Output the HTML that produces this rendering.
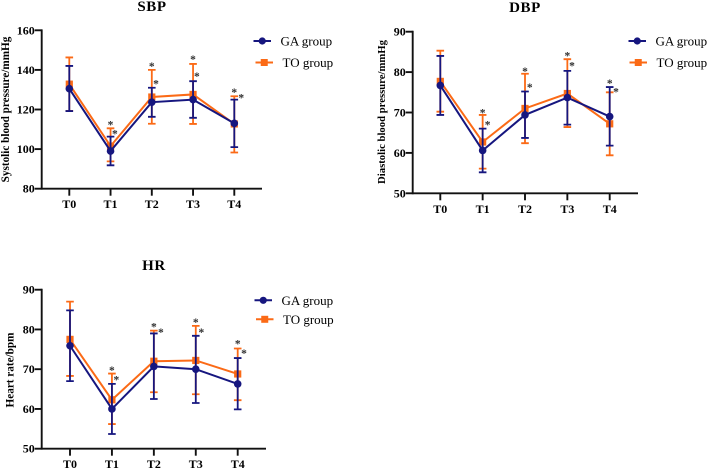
<!DOCTYPE html>
<html>
<head>
<meta charset="utf-8">
<style>
html,body{margin:0;padding:0;background:#fff;width:709px;height:469px;overflow:hidden}
svg{display:block;font-family:"Liberation Serif",serif}
.title{font-weight:700;font-size:15px;letter-spacing:.6px;text-anchor:middle}
.tick{font-weight:700;font-size:12px}
.ytitle{font-weight:700;font-size:11.2px;text-anchor:middle}
.legend{font-size:13px}
.star{font-weight:700;font-size:11.5px;text-anchor:middle;fill:#333}
</style>
</head>
<body>
<svg id="root" width="709" height="469" viewBox="0 0 709 469" xmlns="http://www.w3.org/2000/svg">
  <g style="filter:blur(.35px)" id="plots"></g>
  <text class="title" x="152" y="11">SBP</text>
  <text class="title" x="525" y="12">DBP</text>
  <text class="title" x="154" y="270">HR</text>
  <text class="ytitle" transform="translate(9,109.5) rotate(-90)">Systolic blood pressure/mmHg</text>
  <text class="ytitle" style="font-size:10.7px" transform="translate(385,112) rotate(-90)">Diastolic blood pressure/mmHg</text>
  <text class="ytitle" transform="translate(13.5,370) rotate(-90)">Heart rate/bpm</text>
</svg>
<script>
var NAVY = '#16167f';
var ORANGE = '#fb6a16';
var categories = ['T0', 'T1', 'T2', 'T3', 'T4'];

var sbpTicks = [80, 100, 120, 140, 160];
var sbpGaMean = [130.5, 99, 123.7, 125, 113];
var sbpGaHigh = [142, 106.3, 131, 134.3, 125];
var sbpGaLow = [119.2, 91.8, 116.3, 115.8, 101];
var sbpToMean = [132.8, 101.5, 126.3, 127.6, 112.7];
var sbpToHigh = [146.3, 110.5, 140, 143, 126.7];
var sbpToLow = [119.3, 93.8, 112.8, 112.7, 98.3];
var sbpStarA = [null, 112.5, 142, 145.5, 129];
var sbpStarB = [null, 108, 133.2, 137, 126.2];

var dbpTicks = [50, 60, 70, 80, 90];
var dbpGaMean = [76.7, 60.6, 69.4, 73.7, 69];
var dbpGaHigh = [84, 66, 75.2, 80.3, 76.3];
var dbpGaLow = [69.4, 55.2, 63.7, 67, 61.8];
var dbpToMean = [77.7, 62.7, 71, 74.7, 67.2];
var dbpToHigh = [85.3, 69.4, 79.6, 83.2, 75];
var dbpToLow = [70.2, 56.1, 62.4, 66.4, 59.4];
var dbpStarA = [null, 70, 80.3, 84.2, 77.3];
var dbpStarB = [null, 67.1, 76.3, 81.7, 75.3];

var hrTicks = [50, 60, 70, 80, 90];
var hrGaMean = [75.9, 60, 70.7, 70, 66.3];
var hrGaHigh = [84.8, 66.3, 79, 78.4, 72.8];
var hrGaLow = [67, 53.7, 62.5, 61.5, 59.9];
var hrToMean = [77.5, 62.3, 72, 72.2, 68.8];
var hrToHigh = [87, 68.9, 79.7, 80.9, 75.2];
var hrToLow = [68.3, 56.2, 64.2, 63.7, 62.2];
var hrStarA = [null, 69.8, 80.8, 81.9, 76.5];
var hrStarB = [null, 67.5, 79.4, 79.4, 74.1];

var SVGNS = 'http://www.w3.org/2000/svg';
var plots = document.getElementById('plots');

function make(parent, tag, attrs, text) {
  var e = document.createElementNS(SVGNS, tag);
  for (var k in attrs) e.setAttribute(k, attrs[k]);
  if (text !== undefined) e.textContent = text;
  parent.appendChild(e);
  return e;
}

function drawSeries(g, xOf, yOf, mean, high, low, color, shape, label) {
  var pts = mean.map(function (v, i) { return xOf(i) + ',' + yOf(v); }).join(' ');
  var line = make(g, 'polyline', { points: pts, fill: 'none', stroke: color, 'stroke-width': 2 });
  
  
  mean.forEach(function (v, i) {
    var x = xOf(i);
    var bar = make(g, 'path', {
      d: 'M' + (x - 3.8) + ' ' + yOf(high[i]) + 'H' + (x + 3.8) +
         'M' + x + ' ' + yOf(high[i]) + 'V' + yOf(low[i]) +
         'M' + (x - 3.8) + ' ' + yOf(low[i]) + 'H' + (x + 3.8),
      fill: 'none', stroke: color, 'stroke-width': 1.8
    });
    
    
    var mark;
    if (shape === 'circle') {
      mark = make(g, 'circle', { cx: x, cy: yOf(v), r: 3.8, fill: color });
    } else {
      mark = make(g, 'rect', { x: x - 3.6, y: yOf(v) - 3.6, width: 7.2, height: 7.2, fill: color });
    }
    
    
  });
}

function drawLegendEntry(g, x1, x2, y, tx, color, shape, label) {
  var line = make(g, 'line', { x1: x1, x2: x2, y1: y, y2: y, stroke: color, 'stroke-width': 2 });
  
  
  var c = (x1 + x2) / 2;
  var mark;
  if (shape === 'circle') {
    mark = make(g, 'circle', { cx: c, cy: y, r: 3.6, fill: color });
  } else {
    mark = make(g, 'rect', { x: c - 3.5, y: y - 3.5, width: 7, height: 7, fill: color });
  }
  
  
  var t = make(g, 'text', { x: tx, y: y + 4.5, 'class': 'legend' }, label);
  
  
}

function drawChart(c) {
  var g = make(plots, 'g', {});
  
  
  var min = c.ticks[0], max = c.ticks[c.ticks.length - 1];
  function yOf(v) { return c.bottom + (v - min) / (max - min) * (c.top - c.bottom); }
  function xOf(i) { return c.x0 + i * (c.x4 - c.x0) / (categories.length - 1); }

  var yAxis = make(g, 'line', { x1: c.left, x2: c.left, y1: c.top - 0.9, y2: c.bottom + 0.9, stroke: '#111', 'stroke-width': 1.9 });
  
  
  var xAxis = make(g, 'line', { x1: c.left, x2: c.right, y1: c.bottom, y2: c.bottom, stroke: '#111', 'stroke-width': 1.9 });
  
  

  c.ticks.forEach(function (v) {
    var y = yOf(v);
    var tk = make(g, 'line', { x1: c.left - 7, x2: c.left, y1: y, y2: y, stroke: '#111', 'stroke-width': 1.9 });
    
    
    var lb = make(g, 'text', { x: c.left - 7, y: y + 4, 'class': 'tick', 'text-anchor': 'end' }, String(v));
    
    
  });

  categories.forEach(function (name, i) {
    var x = xOf(i);
    var tk = make(g, 'line', { x1: x, x2: x, y1: c.bottom, y2: c.bottom + 7, stroke: '#111', 'stroke-width': 1.9 });
    
    
    var lb = make(g, 'text', { x: x, y: c.bottom + 19.5, 'class': 'tick', 'text-anchor': 'middle' }, name);
    
    
  });

  drawSeries(g, xOf, yOf, c.toMean, c.toHigh, c.toLow, ORANGE, 'square', 'to-group');
  drawSeries(g, xOf, yOf, c.gaMean, c.gaHigh, c.gaLow, NAVY, 'circle', 'ga-group');

  categories.forEach(function (name, i) {
    if (c.starA[i] !== null) {
      var a = make(g, 'text', { x: xOf(i), y: yOf(c.starA[i]) + 4.2, 'class': 'star' }, '*');
      
      
    }
    if (c.starB[i] !== null) {
      var b = make(g, 'text', { x: xOf(i) + c.starShift[i], y: yOf(c.starB[i]) + 4.2, 'class': 'star' }, '*');
      
      
    }
  });

  drawLegendEntry(g, c.leg[0], c.leg[0] + 17.5, c.leg[1], c.leg[0] + 27, NAVY, 'circle', 'GA group');
  drawLegendEntry(g, c.leg[2], c.leg[2] + 17.5, c.leg[3], c.leg[2] + 27, ORANGE, 'square', 'TO group');
}

drawChart({
  name: 'sbp', ticks: sbpTicks, left: 41.7, right: 262, top: 30.3, bottom: 188.7, x0: 69.3, x4: 234.3,
  gaMean: sbpGaMean, gaHigh: sbpGaHigh, gaLow: sbpGaLow,
  toMean: sbpToMean, toHigh: sbpToHigh, toLow: sbpToLow,
  starA: sbpStarA, starB: sbpStarB, starShift: [0, 4.3, 4.2, 3.8, 7], leg: [253.5, 41, 255.5, 62.5]
});
drawChart({
  name: 'dbp', ticks: dbpTicks, left: 412.7, right: 638, top: 31.7, bottom: 193.3, x0: 440.3, x4: 609.7,
  gaMean: dbpGaMean, gaHigh: dbpGaHigh, gaLow: dbpGaLow,
  toMean: dbpToMean, toHigh: dbpToHigh, toLow: dbpToLow,
  starA: dbpStarA, starB: dbpStarB, starShift: [0, 5, 4.7, 4.7, 6.3], leg: [628.5, 41, 629.5, 62.5]
});
drawChart({
  name: 'hr', ticks: hrTicks, left: 41.7, right: 266, top: 289.7, bottom: 448.7, x0: 70, x4: 237.7,
  gaMean: hrGaMean, gaHigh: hrGaHigh, gaLow: hrGaLow,
  toMean: hrToMean, toHigh: hrToHigh, toLow: hrToLow,
  starA: hrStarA, starB: hrStarB, starShift: [0, 4.4, 7, 5.6, 6.3], leg: [254.5, 300.3, 256, 319.3]
});
</script>
</body>
</html>
